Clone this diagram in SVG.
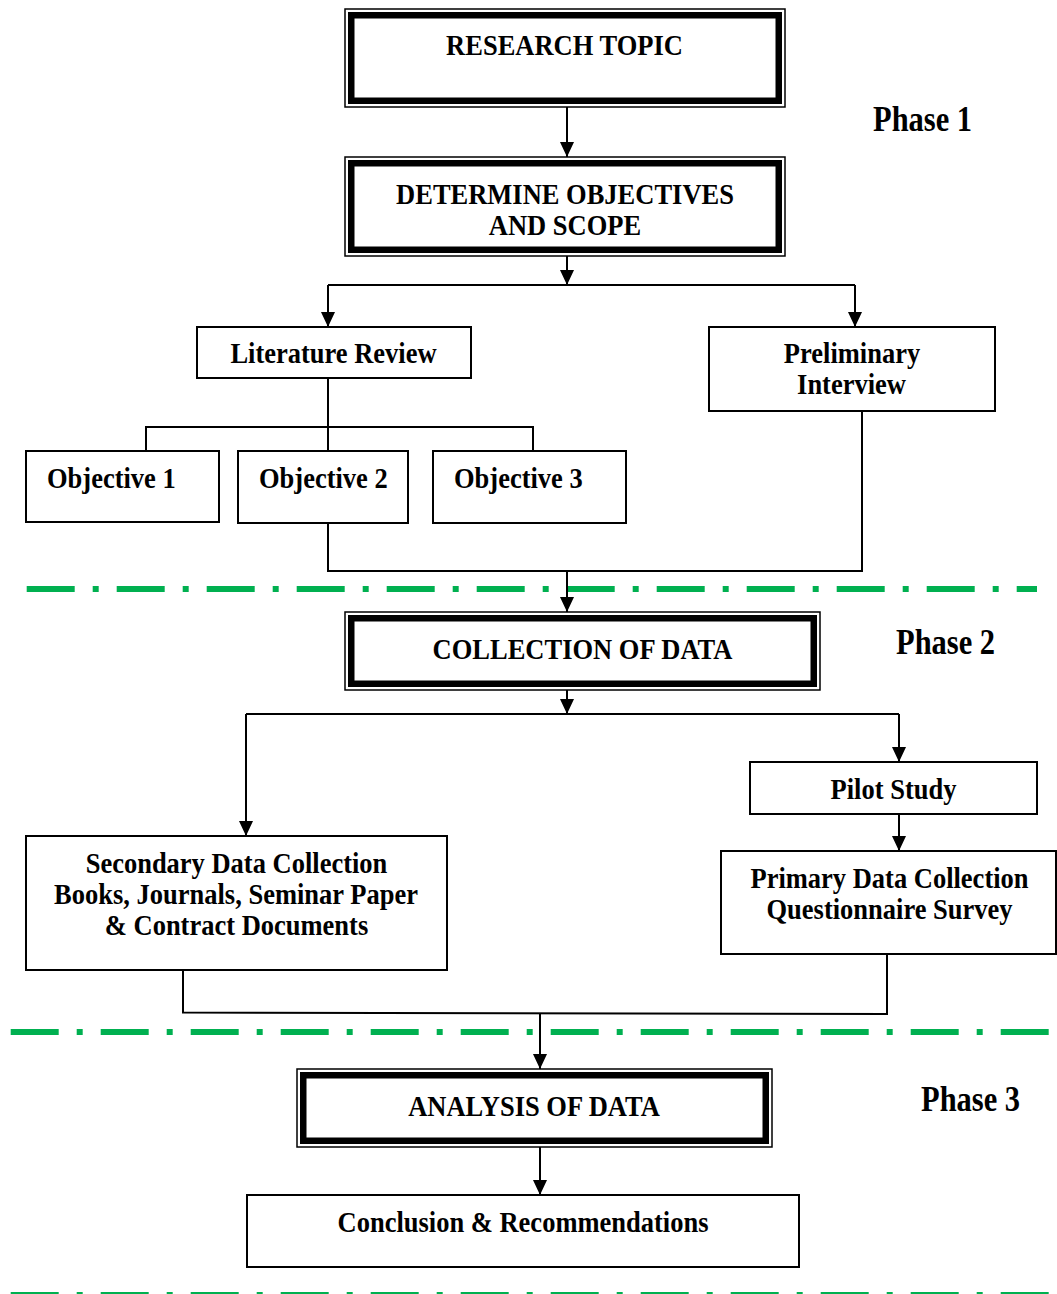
<svg xmlns="http://www.w3.org/2000/svg" width="1057" height="1294" viewBox="0 0 1057 1294">
<defs>
<style>
.outer{fill:#fff;stroke:#000;stroke-width:1.5}
.inner{fill:none;stroke:#000;stroke-width:6.5}
.box{fill:#fff;stroke:#000;stroke-width:2}
.t{font-family:"Liberation Serif","Times New Roman",serif;font-weight:bold;font-size:26.5px;fill:#000}
.ph{font-family:"Liberation Serif","Times New Roman",serif;font-weight:bold;font-size:30.5px;fill:#000}
.c{fill:none;stroke:#000;stroke-width:2}
.g{fill:none;stroke:#00B050;stroke-width:6;stroke-dasharray:48 18 6 18}
</style>
<marker id="ah" markerUnits="userSpaceOnUse" viewBox="0 0 15 14" refX="15" refY="7" markerWidth="15" markerHeight="14" orient="auto">
<path d="M0,0 L15,7 L0,14 z" fill="#000"/>
</marker>
</defs>
<rect width="1057" height="1294" fill="#fff"/>

<g id="phase-lines">
<line class="g" x1="26.7" y1="589" x2="1037" y2="589"/>
<line class="g" x1="10.7" y1="1032" x2="1049" y2="1032"/>
<line class="g" x1="10.7" y1="1295" x2="1057" y2="1295"/>
</g>

<g id="connectors">
<path class="c" d="M567,107 V157" marker-end="url(#ah)"/>
<path class="c" d="M567,256 V285" marker-end="url(#ah)"/>
<path class="c" d="M328,285 H855"/>
<path class="c" d="M328,285 V327" marker-end="url(#ah)"/>
<path class="c" d="M855,285 V327" marker-end="url(#ah)"/>
<path class="c" d="M328,378 V451"/>
<path class="c" d="M146,451 V427 H533 V451"/>
<path class="c" d="M328,523 V571 H862 V411"/>
<path class="c" d="M567,571 V612" marker-end="url(#ah)"/>
<path class="c" d="M567,690 V714" marker-end="url(#ah)"/>
<path class="c" d="M246,714 H899"/>
<path class="c" d="M246,714 V836" marker-end="url(#ah)"/>
<path class="c" d="M899,714 V762" marker-end="url(#ah)"/>
<path class="c" d="M899,814 V851" marker-end="url(#ah)"/>
<path class="c" d="M183,970 V1012.5 L887,1014 V954"/>
<path class="c" d="M540,1013 V1069" marker-end="url(#ah)"/>
<path class="c" d="M540,1147 V1195" marker-end="url(#ah)"/>
</g>

<g id="research-topic">
<rect class="outer" x="345" y="9" width="440" height="98"/>
<rect class="inner" x="351.25" y="15.25" width="427.5" height="85.5"/>
<text class="t" text-anchor="middle" transform="translate(564.5,55) scale(1,1.15)">RESEARCH TOPIC</text>
</g>

<g id="phase1">
<text class="ph" transform="translate(873,131) scale(1,1.15)">Phase 1</text>
</g>

<g id="determine-objectives">
<rect class="outer" x="345" y="157" width="440" height="99"/>
<rect class="inner" x="351.25" y="163.25" width="427.5" height="86.5"/>
<text class="t" text-anchor="middle" transform="translate(565,204) scale(1,1.15)">DETERMINE OBJECTIVES</text>
<text class="t" text-anchor="middle" transform="translate(565,235) scale(1,1.15)">AND SCOPE</text>
</g>

<g id="literature-review">
<rect class="box" x="197" y="327" width="274" height="51"/>
<text class="t" text-anchor="middle" transform="translate(333.5,363) scale(1,1.15)">Literature Review</text>
</g>

<g id="preliminary-interview">
<rect class="box" x="709" y="327" width="286" height="84"/>
<text class="t" text-anchor="middle" transform="translate(852,363) scale(1,1.15)">Preliminary</text>
<text class="t" text-anchor="middle" transform="translate(851.5,394) scale(1,1.15)">Interview</text>
</g>

<g id="objective1">
<rect class="box" x="26" y="451" width="193" height="71"/>
<text class="t" transform="translate(47,488) scale(1,1.15)">Objective 1</text>
</g>
<g id="objective2">
<rect class="box" x="238" y="451" width="170" height="72"/>
<text class="t" transform="translate(259,488) scale(1,1.15)">Objective 2</text>
</g>
<g id="objective3">
<rect class="box" x="433" y="451" width="193" height="72"/>
<text class="t" transform="translate(454,488) scale(1,1.15)">Objective 3</text>
</g>

<g id="collection-of-data">
<rect class="outer" x="345" y="612" width="475" height="78"/>
<rect class="inner" x="351.25" y="618.25" width="462.5" height="65.5"/>
<text class="t" text-anchor="middle" transform="translate(582.5,659) scale(1,1.15)">COLLECTION OF DATA</text>
</g>

<g id="phase2">
<text class="ph" transform="translate(896,654) scale(1,1.15)">Phase 2</text>
</g>

<g id="pilot-study">
<rect class="box" x="750" y="762" width="287" height="52"/>
<text class="t" text-anchor="middle" transform="translate(893.5,799) scale(1,1.15)">Pilot Study</text>
</g>

<g id="primary-data">
<rect class="box" x="721" y="851" width="335" height="103"/>
<text class="t" text-anchor="middle" transform="translate(889.5,888) scale(1,1.15)">Primary Data Collection</text>
<text class="t" text-anchor="middle" transform="translate(889.5,919) scale(1,1.15)">Questionnaire Survey</text>
</g>

<g id="secondary-data">
<rect class="box" x="26" y="836" width="421" height="134"/>
<text class="t" text-anchor="middle" transform="translate(236.5,873) scale(1,1.15)">Secondary Data Collection</text>
<text class="t" text-anchor="middle" transform="translate(236,904) scale(1,1.15)">Books, Journals, Seminar Paper</text>
<text class="t" text-anchor="middle" transform="translate(236.5,935) scale(1,1.15)">&amp; Contract Documents</text>
</g>

<g id="analysis-of-data">
<rect class="outer" x="297" y="1069" width="475" height="78"/>
<rect class="inner" x="303.25" y="1075.25" width="462.5" height="65.5"/>
<text class="t" text-anchor="middle" transform="translate(534,1116) scale(1,1.15)">ANALYSIS OF DATA</text>
</g>

<g id="phase3">
<text class="ph" transform="translate(921,1111) scale(1,1.15)">Phase 3</text>
</g>

<g id="conclusion">
<rect class="box" x="247" y="1195" width="552" height="72"/>
<text class="t" text-anchor="middle" transform="translate(523,1232) scale(1,1.15)">Conclusion &amp; Recommendations</text>
</g>
</svg>
